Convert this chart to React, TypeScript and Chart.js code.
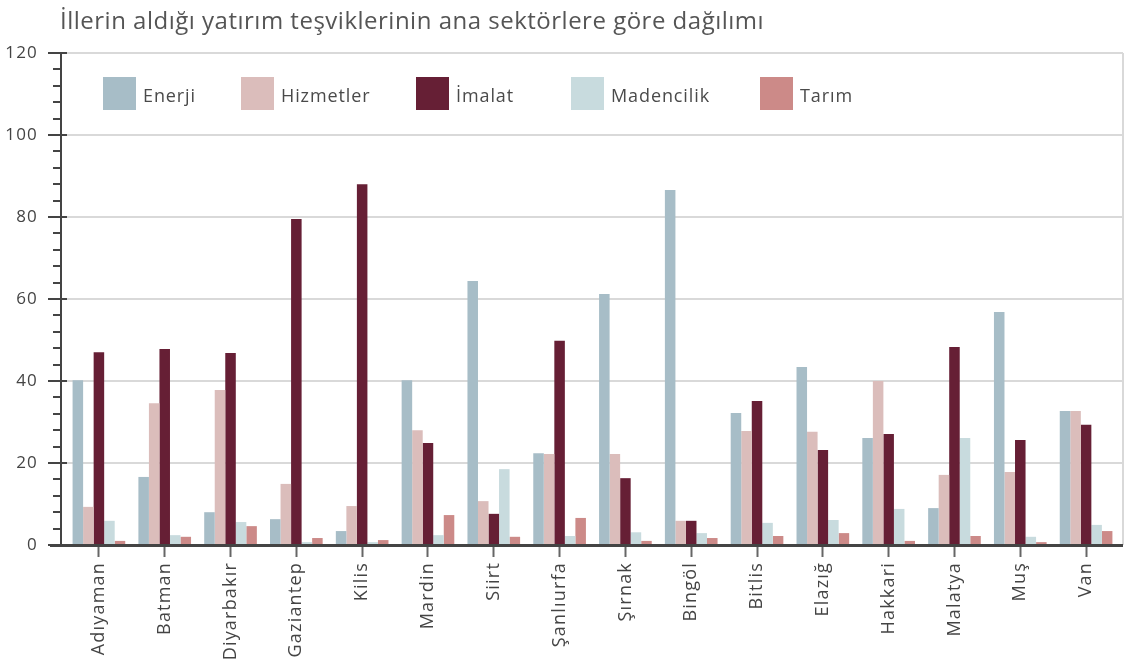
import React, { useEffect, useRef } from "react";
import { Chart, registerables } from "chart.js";

Chart.register(...registerables);

const titleText = "İllerin aldığı yatırım teşviklerinin ana sektörlere göre dağılımı";
const categories = ["Adıyaman", "Batman", "Diyarbakır", "Gaziantep", "Kilis", "Mardin", "Siirt", "Şanlıurfa", "Şırnak", "Bingöl", "Bitlis", "Elazığ", "Hakkari", "Malatya", "Muş", "Van"];
const seriesNames = ["Enerji", "Hizmetler", "İmalat", "Madencilik", "Tarım"];
const enerji = [40.2, 16.6, 8.0, 6.3, 3.4, 40.2, 64.4, 22.4, 61.2, 86.6, 32.2, 43.4, 26.1, 9.0, 56.8, 32.7];
const hizmetler = [9.3, 34.6, 37.8, 14.9, 9.5, 28.0, 10.7, 22.2, 22.2, 5.9, 27.8, 27.6, 40.0, 17.1, 17.8, 32.7];
const imalat = [47.0, 47.8, 46.8, 79.5, 88.0, 24.9, 7.6, 49.8, 16.3, 5.9, 35.1, 23.2, 27.1, 48.3, 25.6, 29.3];
const madencilik = [5.9, 2.4, 5.6, 0.7, 0.7, 2.4, 18.5, 2.2, 3.1, 2.9, 5.4, 6.1, 8.8, 26.1, 2.0, 4.9];
const tarim = [1.0, 2.0, 4.6, 1.7, 1.2, 7.3, 2.0, 6.6, 1.0, 1.7, 2.2, 2.9, 1.0, 2.2, 0.7, 3.4];
const colors = ["#a7bdc7", "#dbbdbb", "#661f35", "#c8dbde", "#cc8a88"];
const yMax = 120;
const yMajorStep = 20;
const yMinorStep = 4;

const FONT = "'Open Sans', Lato, sans-serif";
const legendBoxX = [103, 241, 416, 571, 760];

const spacingPlugin = {
  id: "spacing",
  beforeUpdate(chart: any) {
    chart.ctx.letterSpacing = "1.2px";
  },
  beforeDraw(chart: any) {
    chart.ctx.letterSpacing = "1.2px";
  },
};

const decorPlugin = {
  id: "decor",
  beforeDatasetsDraw(chart: any) {
    const { ctx } = chart;
    const y = chart.scales.y;
    ctx.save();
    ctx.strokeStyle = "#d9d9d9";
    ctx.lineWidth = 2;
    for (let v = yMajorStep; v <= yMax; v += yMajorStep) {
      const py = Math.round(y.getPixelForValue(v));
      ctx.beginPath();
      ctx.moveTo(67, py);
      ctx.lineTo(1123, py);
      ctx.stroke();
    }
    ctx.beginPath();
    ctx.moveTo(1123, y.getPixelForValue(yMax));
    ctx.lineTo(1123, y.getPixelForValue(0));
    ctx.stroke();
    ctx.restore();
  },
  afterDatasetsDraw(chart: any) {
    const { ctx } = chart;
    const y = chart.scales.y;
    const y0 = y.getPixelForValue(0);
    const yTop = y.getPixelForValue(yMax);
    ctx.save();
    ctx.strokeStyle = "#444";
    ctx.lineWidth = 2;
    ctx.beginPath();
    ctx.moveTo(61, yTop);
    ctx.lineTo(61, y0);
    ctx.stroke();
    for (let v = 0; v <= yMax; v += yMinorStep) {
      const py = Math.round(y.getPixelForValue(v));
      const major = v % yMajorStep === 0;
      ctx.beginPath();
      ctx.moveTo(major ? 48 : 53, py);
      ctx.lineTo(major ? 67 : 61, py);
      ctx.stroke();
    }
    ctx.lineWidth = 3;
    ctx.beginPath();
    ctx.moveTo(50, y0 + 0.5);
    ctx.lineTo(1123, y0 + 0.5);
    ctx.stroke();
    ctx.restore();

    ctx.save();
    ctx.letterSpacing = "0.5px";
    ctx.font = `24px ${FONT}`;
    ctx.fillStyle = "#555";
    ctx.textBaseline = "alphabetic";
    ctx.textAlign = "left";
    ctx.fillText(titleText, 60, 29);
    ctx.restore();

    ctx.save();
    ctx.letterSpacing = "0.9px";
    ctx.font = `18px ${FONT}`;
    ctx.textBaseline = "middle";
    ctx.textAlign = "left";
    chart.data.datasets.forEach((ds: any, i: number) => {
      const lx = legendBoxX[i];
      ctx.fillStyle = ds.backgroundColor;
      ctx.fillRect(lx, 77, 33, 33);
      ctx.fillStyle = "#4a4a4a";
      ctx.fillText(ds.label, lx + 40, 97);
    });
    ctx.restore();
  },
};

export default function App() {
  const ref = useRef<HTMLCanvasElement>(null);
  useEffect(() => {
    document.body.style.margin = "0";
    const series = [enerji, hizmetler, imalat, madencilik, tarim];
    const chart = new Chart(ref.current!, {
      type: "bar",
      data: {
        labels: categories,
        datasets: series.map((d, i) => ({
          label: seriesNames[i],
          data: d,
          backgroundColor: colors[i],
          borderWidth: 0,
          categoryPercentage: 0.8,
          barPercentage: 1.0,
        })),
      },
      options: {
        responsive: false,
        animation: false,
        layout: { padding: { top: 53, right: 6, left: 0, bottom: 0 } },
        plugins: { legend: { display: false }, title: { display: false }, tooltip: { enabled: false } },
        scales: {
          x: {
            offset: true,
            grid: {
              display: true,
              drawOnChartArea: false,
              drawTicks: true,
              tickLength: 12,
              tickColor: "#666",
              tickWidth: 2,
              offset: false,
            },
            border: { display: false },
            ticks: {
              autoSkip: false,
              maxRotation: 90,
              minRotation: 90,
              padding: 5,
              color: "#444",
              font: { family: FONT, size: 18 },
            },
            afterFit(scale: any) {
              scale.height = 123;
            },
          },
          y: {
            min: 0,
            max: yMax,
            ticks: {
              stepSize: yMajorStep,
              padding: 28,
              color: "#444",
              font: { family: FONT, size: 17 },
            },
            grid: { display: false, drawTicks: false },
            border: { display: false },
            afterFit(scale: any) {
              scale.width = 66;
            },
          },
        },
      },
      plugins: [spacingPlugin, decorPlugin],
    });
    return () => chart.destroy();
  }, []);
  return (
    <div style={{ width: 1125, height: 668, position: "relative" }}>
      <canvas ref={ref} width={1125} height={668} />
    </div>
  );
}
